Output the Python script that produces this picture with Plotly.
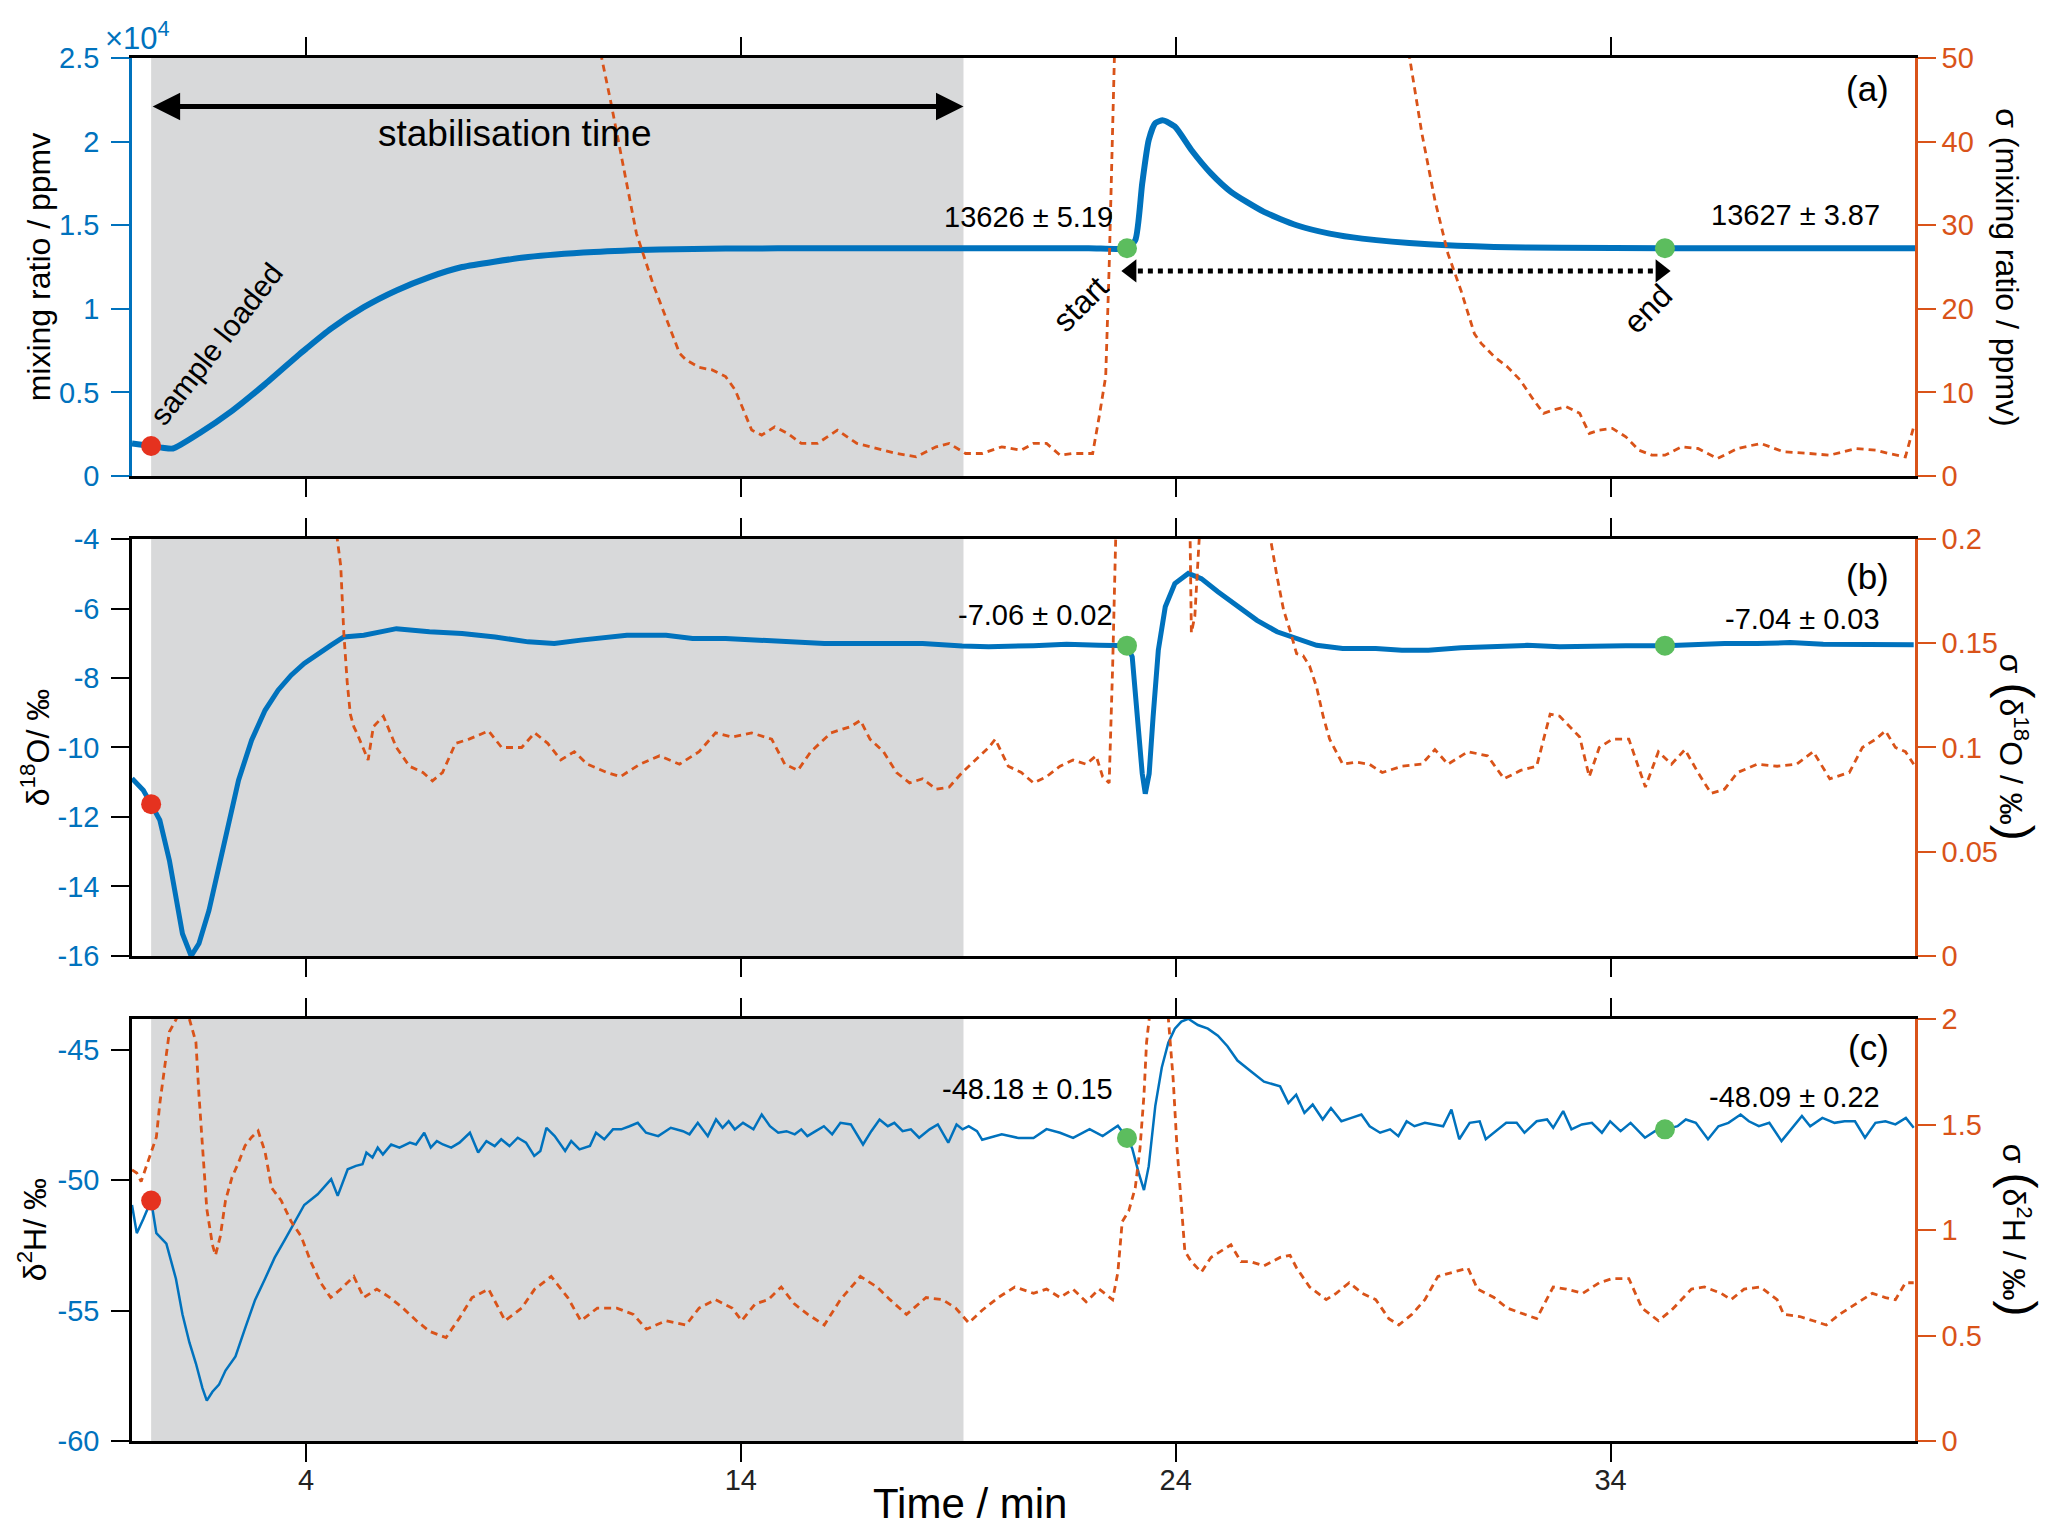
import plotly.graph_objects as go
from plotly.subplots import make_subplots

# ---- data ----
# time axis (min)
x_ticks = [4, 14, 24, 34]
stab_start, stab_end = 0.44, 19.12      # grey "stabilisation time" band
start_t, end_t = 22.88, 35.25           # averaging window (green dots)

# (a) mixing ratio (ppmv) and its sigma (ppmv)
t_mr = [0.0, 0.44, 0.7, 0.94, 1.54, 2.30, 3.06, 3.81, 4.0, 4.57, 5.33, 6.08, 6.84,
        7.59, 9.11, 10.62, 12.13, 13.65, 16.0, 19.0, 22.0, 22.88, 23.07, 23.23,
        23.38, 23.53, 23.71, 23.98, 24.36, 24.81, 25.27, 26.03, 26.78, 27.54,
        28.29, 29.81, 31.32, 32.83, 35.25, 38.0, 41.0]
mr = [1950, 1800, 1700, 1650, 2550, 3900, 5500, 7200, 7610, 8800, 10100, 11100,
      11900, 12500, 13100, 13400, 13550, 13610, 13620, 13626, 13626, 13626, 14100,
      17500, 20100, 21100, 21270, 20900, 19500, 18100, 17000, 15800, 15000, 14500,
      14200, 13860, 13700, 13650, 13627, 13627, 13627]
t_smr = [10.5, 10.80, 11.0, 11.30, 11.60, 11.98, 12.28, 12.59, 12.74, 13.04,
         13.34, 13.65, 13.87, 14.10, 14.25, 14.48, 14.78, 15.08, 15.39, 15.76,
         16.22, 16.67, 17.13, 17.58, 18.03, 18.49, 18.79, 19.17, 19.55, 20.0,
         20.45, 20.73, 21.03, 21.34, 21.64, 22.09, 22.24, 22.39, 22.47, 22.55,
         22.59, 22.8, 29.2, 29.38, 29.66, 29.96, 30.26, 30.56, 30.87, 31.02,
         31.32, 31.62, 31.92, 32.23, 32.46, 32.68, 32.98, 33.29, 33.51, 33.74,
         34.04, 34.35, 34.65, 34.95, 35.25, 35.63, 36.01, 36.46, 36.92, 37.45,
         37.98, 38.58, 39.04, 39.64, 40.10, 40.40, 40.78, 40.97]
smr = [62, 50, 45, 37, 29, 23, 19, 14.7, 13.9, 13.0,
       12.7, 11.9, 10.3, 7.5, 5.5, 4.9, 5.9, 5.1, 3.9, 3.9,
       5.5, 3.9, 3.3, 2.7, 2.3, 3.5, 3.9, 2.7, 2.7, 3.5,
       3.1, 3.9, 3.9, 2.5, 2.7, 2.7, 7.1, 11.9, 25, 41,
       50, 70, 70, 50, 41, 33, 26.6, 22.2, 17, 15.9,
       14.3, 13.1, 11.5, 9.1, 7.5, 7.9, 8.3, 7.5, 5.1, 5.5,
       5.7, 4.7, 3.1, 2.5, 2.5, 3.5, 3.3, 2.1, 3.3, 3.9,
       2.9, 2.7, 2.5, 3.3, 3.1, 2.7, 2.3, 5.9]

# (b) delta 18O (permil) and its sigma
t_o = [0.0, 0.26, 0.44, 0.64, 0.86, 1.01, 1.16, 1.36, 1.54, 1.77,
       2.0, 2.22, 2.45, 2.75, 3.06, 3.36, 3.66, 3.96, 4.27, 4.57,
       4.87, 5.33, 6.08, 6.84, 7.59, 8.35, 9.11, 9.71, 10.32, 11.38,
       12.28, 12.89, 13.65, 14.40, 15.16, 15.92, 16.67, 17.43, 18.18, 19.09,
       19.70, 20.73, 21.49, 22.24, 22.88, 23.0, 23.12, 23.23, 23.30, 23.39,
       23.48, 23.60, 23.76, 23.98, 24.29, 24.59, 24.97, 25.42, 25.87, 26.33,
       26.78, 27.24, 27.84, 28.60, 29.20, 29.81, 30.56, 31.32, 32.08, 32.83,
       33.59, 34.35, 35.26, 35.86, 36.62, 37.37, 38.13, 38.89, 39.64, 40.40,
       40.97]
d18o = [-10.89, -11.23, -11.63, -12.09, -13.25, -14.40, -15.36, -16.0, -15.64, -14.69,
        -13.44, -12.19, -10.94, -9.79, -8.93, -8.35, -7.92, -7.58, -7.30, -7.06,
        -6.82, -6.77, -6.58, -6.67, -6.72, -6.82, -6.96, -7.01, -6.91, -6.77,
        -6.77, -6.86, -6.86, -6.91, -6.96, -7.01, -7.01, -7.01, -7.01, -7.08,
        -7.10, -7.07, -7.03, -7.06, -7.07, -7.39, -9.12, -10.75, -11.33, -10.75,
        -9.12, -7.2, -5.95, -5.28, -4.99, -5.14, -5.52, -5.95, -6.34, -6.67,
        -6.86, -7.06, -7.15, -7.15, -7.20, -7.20, -7.13, -7.10, -7.06, -7.10,
        -7.07, -7.07, -7.07, -7.03, -7.01, -7.01, -6.98, -7.03, -7.03, -7.03,
        -7.04]
t_so = [4.6, 4.72, 4.80, 4.87, 4.95, 5.02, 5.10, 5.17, 5.33, 5.43,
        5.55, 5.78, 6.08, 6.38, 6.69, 6.91, 7.14, 7.44, 7.75, 8.20,
        8.50, 8.96, 9.26, 9.56, 9.86, 10.17, 10.47, 10.92, 11.23, 11.68,
        12.13, 12.59, 13.04, 13.42, 13.80, 14.25, 14.71, 15.01, 15.31, 15.61,
        16.07, 16.52, 16.75, 16.97, 17.28, 17.58, 17.88, 18.18, 18.49, 18.79,
        19.09, 19.39, 19.70, 19.85, 20.15, 20.45, 20.73, 21.03, 21.34, 21.64,
        21.94, 22.17, 22.32, 22.47, 22.55, 22.62, 23.0, 24.0, 24.30, 24.36,
        24.44, 24.54, 24.7, 25.8, 26.18, 26.33, 26.48, 26.63, 26.78, 26.93,
        27.08, 27.24, 27.39, 27.54, 27.69, 27.84, 28.14, 28.45, 28.75, 29.20,
        29.66, 29.96, 30.26, 30.72, 31.17, 31.55, 31.93, 32.30, 32.61, 32.83,
        33.29, 33.51, 33.74, 34.04, 34.42, 34.80, 35.10, 35.40, 35.71, 36.01,
        36.31, 36.62, 36.92, 37.37, 37.83, 38.28, 38.66, 39.04, 39.49, 39.79,
        40.10, 40.32, 40.55, 40.78, 40.97]
so = [0.30, 0.20, 0.187, 0.155, 0.131, 0.116, 0.110, 0.107, 0.099, 0.094,
      0.110, 0.115, 0.100, 0.091, 0.088, 0.084, 0.088, 0.102, 0.104, 0.108,
      0.100, 0.100, 0.107, 0.102, 0.094, 0.098, 0.092, 0.088, 0.086, 0.092,
      0.096, 0.092, 0.098, 0.107, 0.105, 0.107, 0.104, 0.092, 0.089, 0.098,
      0.107, 0.110, 0.113, 0.104, 0.098, 0.088, 0.083, 0.085, 0.080, 0.081,
      0.088, 0.094, 0.100, 0.104, 0.091, 0.088, 0.083, 0.086, 0.091, 0.094,
      0.092, 0.096, 0.086, 0.083, 0.139, 0.20, 0.40, 0.40, 0.25, 0.155,
      0.163, 0.20, 0.35, 0.35, 0.20, 0.182, 0.166, 0.156, 0.145, 0.144,
      0.139, 0.129, 0.115, 0.104, 0.098, 0.092, 0.093, 0.092, 0.088, 0.091,
      0.092, 0.099, 0.092, 0.098, 0.096, 0.085, 0.089, 0.091, 0.116, 0.115,
      0.105, 0.086, 0.100, 0.104, 0.104, 0.081, 0.098, 0.092, 0.099, 0.088,
      0.078, 0.080, 0.088, 0.092, 0.091, 0.092, 0.098, 0.085, 0.088, 0.100,
      0.104, 0.108, 0.100, 0.098, 0.092]

# (c) delta 2H (permil), read in four stretches, and its sigma
t_h_dip = [0.0, 0.11, 0.26, 0.44, 0.56, 0.79, 1.01, 1.16, 1.32, 1.47,
           1.62, 1.72, 1.85, 2.0, 2.15, 2.38, 2.60, 2.83, 3.06, 3.28,
           3.51, 3.74, 3.96, 4.27, 4.49]
d2h_dip = [-50.95, -52.03, -51.49, -50.78, -52.03, -52.43, -53.78, -55.14, -56.22, -57.03,
           -57.97, -58.45, -58.11, -57.84, -57.30, -56.76, -55.68, -54.59, -53.78, -52.97,
           -52.30, -51.62, -50.95, -50.54, -50.11]
t_h_stab = [4.58, 4.73, 4.96, 5.15, 5.30, 5.39, 5.53, 5.65, 5.77, 5.96,
            6.15, 6.39, 6.53, 6.72, 6.87, 7.01, 7.15, 7.34, 7.53, 7.77,
            7.96, 8.15, 8.34, 8.49, 8.68, 8.87, 9.06, 9.25, 9.39, 9.53,
            9.72, 9.96, 10.10, 10.29, 10.53, 10.67, 10.86, 11.06, 11.25, 11.44,
            11.63, 11.82, 12.10, 12.39, 12.67, 12.82, 13.01, 13.24, 13.43, 13.58,
            13.72, 13.86, 14.05, 14.29, 14.48, 14.67, 14.86, 15.05, 15.24, 15.39,
            15.53, 15.72, 15.91, 16.10, 16.29, 16.53, 16.67, 16.81, 17.0, 17.19,
            17.38, 17.53, 17.72, 17.91, 18.10, 18.34, 18.53, 18.77, 18.96, 19.10,
            19.24, 19.43]
d2h_stab = [-49.96, -50.6, -49.58, -49.45, -49.39, -48.94, -49.13, -48.75, -49.01, -48.63,
            -48.75, -48.56, -48.63, -48.18, -48.75, -48.50, -48.63, -48.75, -48.56, -48.18,
            -48.94, -48.50, -48.69, -48.43, -48.69, -48.37, -48.56, -49.07, -48.88, -47.99,
            -48.31, -48.88, -48.50, -48.82, -48.69, -48.18, -48.43, -48.05, -48.05, -47.93,
            -47.80, -48.18, -48.31, -47.99, -48.12, -48.24, -47.80, -48.31, -47.67, -47.99,
            -47.74, -48.05, -47.80, -48.05, -47.48, -47.93, -48.18, -48.12, -48.24, -48.05,
            -48.31, -48.12, -47.93, -48.24, -47.80, -47.86, -48.24, -48.63, -48.12, -47.67,
            -47.93, -47.80, -48.12, -48.05, -48.37, -48.05, -47.86, -48.56, -47.86, -48.05,
            -47.93, -48.12]
t_h_peak = [19.55, 20.0, 20.38, 20.73, 21.03, 21.34, 21.64, 22.02, 22.32, 22.67,
            22.88, 23.0, 23.15, 23.27, 23.38, 23.53, 23.68, 23.83, 23.98, 24.13,
            24.29, 24.51, 24.74, 24.97, 25.19, 25.42, 25.72, 26.03]
d2h_peak = [-48.45, -48.24, -48.38, -48.38, -48.04, -48.18, -48.38, -48.04, -48.31, -47.91,
            -48.38, -48.78, -49.73, -50.38, -49.46, -47.16, -45.68, -44.73, -44.19, -43.92,
            -43.81, -44.05, -44.19, -44.46, -44.86, -45.41, -45.81, -46.22]
t_h_tail = [26.40, 26.59, 26.77, 26.96, 27.15, 27.38, 27.57, 27.81, 28.04, 28.27,
            28.46, 28.70, 28.93, 29.12, 29.31, 29.49, 29.73, 29.96, 30.15, 30.34,
            30.52, 30.76, 30.99, 31.13, 31.37, 31.60, 31.84, 32.02, 32.30, 32.54,
            32.68, 32.91, 33.10, 33.34, 33.57, 33.80, 33.99, 34.23, 34.46, 34.79,
            35.02, 35.26, 35.54, 35.73, 35.96, 36.24, 36.48, 36.71, 36.99, 37.18,
            37.41, 37.65, 37.93, 38.16, 38.40, 38.59, 38.87, 39.15, 39.38, 39.62,
            39.85, 40.09, 40.32, 40.55, 40.79, 40.97]
d2h_tail = [-46.40, -47.04, -46.72, -47.42, -47.10, -47.67, -47.23, -47.74, -47.61, -47.48,
            -47.93, -48.18, -48.05, -48.31, -47.74, -47.93, -47.80, -47.86, -47.93, -47.29,
            -48.43, -47.80, -47.74, -48.43, -48.12, -47.80, -47.80, -48.18, -47.74, -47.67,
            -47.99, -47.35, -48.05, -47.86, -47.80, -48.18, -47.74, -48.12, -47.80, -48.37,
            -48.12, -48.05, -47.93, -47.67, -47.80, -48.43, -47.93, -47.80, -47.48, -47.74,
            -47.93, -47.80, -48.50, -48.05, -47.54, -47.93, -47.61, -47.80, -47.74, -47.74,
            -48.37, -47.80, -47.74, -47.86, -47.61, -47.99]
t_h = t_h_dip + t_h_stab + t_h_peak + t_h_tail
d2h = d2h_dip + d2h_stab + d2h_peak + d2h_tail
t_sh = [0.0, 0.11, 0.21, 0.33, 0.45, 0.56, 0.64, 0.76, 0.86, 0.94,
        1.01, 1.12, 1.32, 1.47, 1.54, 1.62, 1.72, 1.85, 1.92, 2.03,
        2.15, 2.30, 2.45, 2.60, 2.75, 2.90, 3.06, 3.21, 3.43, 3.66,
        3.89, 4.11, 4.34, 4.57, 4.80, 5.10, 5.33, 5.63, 5.93, 6.23,
        6.54, 6.84, 7.22, 7.52, 7.82, 8.20, 8.58, 8.96, 9.26, 9.64,
        10.02, 10.32, 10.70, 11.15, 11.53, 11.83, 12.28, 12.74, 13.04, 13.42,
        13.80, 14.02, 14.33, 14.63, 14.93, 15.23, 15.54, 15.92, 16.29, 16.75,
        17.13, 17.43, 17.81, 18.26, 18.64, 18.94, 19.24, 19.55, 19.92, 20.30,
        20.73, 21.03, 21.34, 21.64, 21.94, 22.24, 22.55, 22.67, 22.77, 22.92,
        23.07, 23.18, 23.27, 23.33, 23.39, 23.6, 23.83, 23.94, 24.03, 24.13,
        24.21, 24.36, 24.59, 24.81, 25.04, 25.27, 25.50, 25.72, 26.03, 26.40,
        26.63, 26.78, 27.08, 27.46, 27.69, 27.99, 28.29, 28.60, 28.90, 29.13,
        29.43, 29.73, 30.03, 30.41, 30.72, 30.94, 31.32, 31.62, 32.0, 32.30,
        32.68, 32.98, 33.36, 33.74, 34.04, 34.42, 34.72, 35.10, 35.40, 35.86,
        36.16, 36.54, 36.77, 37.07, 37.45, 37.83, 37.98, 38.35, 38.66, 38.96,
        39.26, 39.64, 40.02, 40.32, 40.55, 40.78, 40.97]
sh = [1.285, 1.27, 1.23, 1.30, 1.37, 1.44, 1.60, 1.80, 1.94, 1.97,
      2.0, 2.04, 2.0, 1.89, 1.64, 1.39, 1.10, 0.93, 0.88, 0.97,
      1.14, 1.25, 1.32, 1.40, 1.44, 1.47, 1.37, 1.20, 1.14, 1.04,
      0.97, 0.85, 0.75, 0.68, 0.72, 0.78, 0.68, 0.72, 0.68, 0.63,
      0.57, 0.52, 0.49, 0.58, 0.68, 0.72, 0.57, 0.63, 0.72, 0.78,
      0.68, 0.57, 0.63, 0.63, 0.60, 0.53, 0.57, 0.55, 0.63, 0.67,
      0.63, 0.57, 0.65, 0.67, 0.73, 0.65, 0.60, 0.55, 0.67, 0.78,
      0.73, 0.67, 0.60, 0.68, 0.67, 0.63, 0.56, 0.62, 0.68, 0.73,
      0.70, 0.72, 0.68, 0.72, 0.66, 0.72, 0.67, 0.80, 1.04, 1.09,
      1.20, 1.39, 1.64, 1.89, 2.0, 2.6, 2.0, 1.72, 1.39, 1.10,
      0.90, 0.85, 0.80, 0.87, 0.90, 0.93, 0.85, 0.85, 0.83, 0.87,
      0.88, 0.82, 0.73, 0.67, 0.70, 0.75, 0.70, 0.67, 0.58, 0.55,
      0.60, 0.67, 0.78, 0.80, 0.82, 0.72, 0.68, 0.63, 0.60, 0.58,
      0.73, 0.72, 0.70, 0.75, 0.77, 0.77, 0.63, 0.57, 0.62, 0.72,
      0.73, 0.70, 0.67, 0.72, 0.73, 0.67, 0.60, 0.59, 0.57, 0.55,
      0.60, 0.65, 0.70, 0.68, 0.67, 0.75, 0.75]

# marker values (sample loaded / start / end)
loaded_vals = [1800, -11.63, -50.78]
start_vals = [13626, -7.07, -48.38]
end_vals = [13627, -7.07, -48.05]
result_labels = [("13626 ± 5.19", "13627 ± 3.87"),
                 ("-7.06 ± 0.02", "-7.04 ± 0.03"),
                 ("-48.18 ± 0.15", "-48.09 ± 0.22")]

for a, b in [(t_mr, mr), (t_smr, smr), (t_o, d18o), (t_so, so), (t_h, d2h), (t_sh, sh)]:
    assert len(a) == len(b)

# ---- styling ----
BLUE = "#0072BD"
ORANGE = "#D95319"
GREY = "#d8d9da"
RED_DOT = "#e5321f"
GREEN_DOT = "#5cbd5e"
FONT = "Liberation Sans, Arial, sans-serif"

fig = make_subplots(rows=3, cols=1, specs=[[{"secondary_y": True}]] * 3)

series = [(t_mr, mr, t_smr, smr, 6), (t_o, d18o, t_so, so, 5), (t_h, d2h, t_sh, sh, 2.5)]
ydoms = ["y domain", "y3 domain", "y5 domain"]
for i, (tb, vb, tr, vr, w) in enumerate(series):
    row = i + 1
    fig.add_shape(type="rect", xref="x" if row == 1 else f"x{row}", yref=ydoms[i],
                  x0=stab_start, x1=stab_end, y0=0, y1=1, fillcolor=GREY,
                  line_width=0, layer="below")
    fig.add_trace(go.Scatter(x=tb, y=vb, mode="lines",
                             line=dict(color=BLUE, width=w,
                                       shape="spline" if row == 1 else "linear",
                                       smoothing=0.6)),
                  row=row, col=1, secondary_y=False)
    fig.add_trace(go.Scatter(x=tr, y=vr, mode="lines",
                             line=dict(color=ORANGE, width=2.8, dash="7px,5px")),
                  row=row, col=1, secondary_y=True)
    fig.add_trace(go.Scatter(x=[stab_start], y=[loaded_vals[i]], mode="markers",
                             marker=dict(color=RED_DOT, size=20)),
                  row=row, col=1, secondary_y=False)
    fig.add_trace(go.Scatter(x=[start_t, end_t], y=[start_vals[i], end_vals[i]],
                             mode="markers", marker=dict(color=GREEN_DOT, size=20)),
                  row=row, col=1, secondary_y=False)

# dotted double arrow between start and end (panel a)
arrow_y = 12270
fig.add_trace(go.Scatter(x=[start_t + 0.25, end_t - 0.25], y=[arrow_y, arrow_y],
                         mode="lines", line=dict(color="black", width=5, dash="dot")),
              row=1, col=1)
fig.add_trace(go.Scatter(x=[start_t + 0.1, end_t - 0.1], y=[arrow_y, arrow_y],
                         mode="markers",
                         marker=dict(color="black", size=20,
                                     symbol=["triangle-left", "triangle-right"])),
              row=1, col=1)

# solid double arrow for stabilisation time
fig.add_annotation(x=stab_end, y=22100, ax=stab_start, ay=22100, xref="x", yref="y",
                   axref="x", ayref="y", text="", showarrow=True, arrowhead=2,
                   arrowside="end+start", arrowsize=1.1, arrowwidth=5, arrowcolor="black")

txt = dict(family=FONT, color="black")
fig.add_annotation(x=8.8, y=20500, xref="x", yref="y", text="stabilisation time",
                   showarrow=False, font=dict(size=37, **txt))
fig.add_annotation(x=1.95, y=7900, xref="x", yref="y", text="sample loaded",
                   textangle=-52, showarrow=False, font=dict(size=30, **txt))
fig.add_annotation(x=21.8, y=10300, xref="x", yref="y", text="start",
                   textangle=-45, showarrow=False, font=dict(size=32, **txt))
fig.add_annotation(x=34.85, y=10000, xref="x", yref="y", text="end",
                   textangle=-45, showarrow=False, font=dict(size=32, **txt))

label_y = [(15500, 15600), (-6.19, -6.29), (-46.49, -46.82)]
panel_tag_y = [23200, -5.09, -44.93]
refs = [("x", "y"), ("x2", "y3"), ("x3", "y5")]
for i, (xr, yr) in enumerate(refs):
    fig.add_annotation(x=22.6, y=label_y[i][0], xref=xr, yref=yr, xanchor="right",
                       text=result_labels[i][0], showarrow=False, font=dict(size=29, **txt))
    fig.add_annotation(x=40.25, y=label_y[i][1], xref=xr, yref=yr, xanchor="right",
                       text=result_labels[i][1], showarrow=False, font=dict(size=29, **txt))
    fig.add_annotation(x=40.45, y=panel_tag_y[i], xref=xr, yref=yr, xanchor="right",
                       text="(" + "abc"[i] + ")", showarrow=False, font=dict(size=35, **txt))

# axis titles
big = "<span style='font-size:48px'>%s</span>"
left_titles = ["mixing ratio / ppmv", "δ<sup>18</sup>O/ ‰", "δ<sup>2</sup>H/ ‰"]
right_titles = ["σ (mixing ratio / ppmv)",
                "σ " + big % "(" + "δ<sup>18</sup>O / ‰" + big % ")",
                "σ " + big % "(" + "δ<sup>2</sup>H / ‰" + big % ")"]
left_x = [-0.052, -0.054, -0.056]
right_x = [1.0515, 1.057, 1.059]
for i, (xr, yr) in enumerate(refs):
    fig.add_annotation(x=left_x[i], y=0.5, xref="paper", yref=yr + " domain",
                       xanchor="center", yanchor="middle",
                       text=left_titles[i], textangle=-90, showarrow=False,
                       font=dict(size=32, **txt))
    fig.add_annotation(x=right_x[i], y=0.5, xref="paper", yref=yr + " domain",
                       xanchor="center", yanchor="middle",
                       text=right_titles[i], textangle=90, showarrow=False,
                       font=dict(size=32, **txt))

fig.add_annotation(x=0.47, y=-0.045, xref="paper", yref="paper", xanchor="center",
                   yanchor="middle", text="Time / min", showarrow=False,
                   font=dict(size=42, **txt))
fig.add_annotation(x=-0.016, y=1.0, xref="paper", yref="paper", xanchor="left",
                   yanchor="bottom", text="×10<sup>4</sup>", showarrow=False,
                   font=dict(size=31, family=FONT, color=BLUE))

# ---- axes ----
domains = [[0.6977, 1.0], [0.3507, 0.6522], [0.0, 0.3051]]
for i in range(3):
    row = i + 1
    fig.update_xaxes(range=[0, 41], domain=[0, 1], tickvals=x_ticks, showline=True,
                     linewidth=2.5, linecolor="black", mirror="ticks", ticks="outside",
                     ticklen=18, tickwidth=2, tickcolor="black", showgrid=False,
                     zeroline=False, showticklabels=(row == 3), ticklabelstandoff=-7,
                     tickfont=dict(size=29, family=FONT, color="#222"),
                     row=row, col=1)
    fig.update_yaxes(domain=domains[i], row=row, col=1)

left_ranges = [[0, 25000], [-16, -4], [-60, -43.82]]
left_ticks = [[0, 5000, 10000, 15000, 20000, 25000], [-16, -14, -12, -10, -8, -6, -4],
              [-60, -55, -50, -45]]
left_text = [["0", "0.5", "1", "1.5", "2", "2.5"],
             [str(v) for v in left_ticks[1]], [str(v) for v in left_ticks[2]]]
left_line = [BLUE, "black", "black"]
right_ranges = [[0, 50], [0, 0.2], [0, 2]]
right_ticks = [[0, 10, 20, 30, 40, 50], [0, 0.05, 0.1, 0.15, 0.2], [0, 0.5, 1, 1.5, 2]]
for i in range(3):
    row = i + 1
    fig.update_yaxes(range=left_ranges[i], tickvals=left_ticks[i], ticktext=left_text[i],
                     showline=True, linewidth=2.5, linecolor=left_line[i], ticks="outside",
                     ticklen=18, tickwidth=2, tickcolor=left_line[i], showgrid=False,
                     zeroline=False, ticklabelstandoff=6,
                     tickfont=dict(size=29, family=FONT, color=BLUE),
                     row=row, col=1, secondary_y=False)
    fig.update_yaxes(range=right_ranges[i], tickvals=right_ticks[i],
                     ticktext=[f"{v:g}" for v in right_ticks[i]],
                     showline=True, linewidth=2.5, linecolor=ORANGE, ticks="outside",
                     ticklen=18, tickwidth=2, tickcolor=ORANGE, showgrid=False,
                     zeroline=False, tickfont=dict(size=29, family=FONT, color=ORANGE),
                     row=row, col=1, secondary_y=True)

# page body adds an 8 px offset, margins compensate for it
fig.update_layout(
    width=2067, height=1537,
    margin=dict(l=124, r=160, t=50, b=104),
    plot_bgcolor="rgba(0,0,0,0)", paper_bgcolor="white",
    showlegend=False,
    font=dict(family=FONT),
)

fig.write_html("out.html")
